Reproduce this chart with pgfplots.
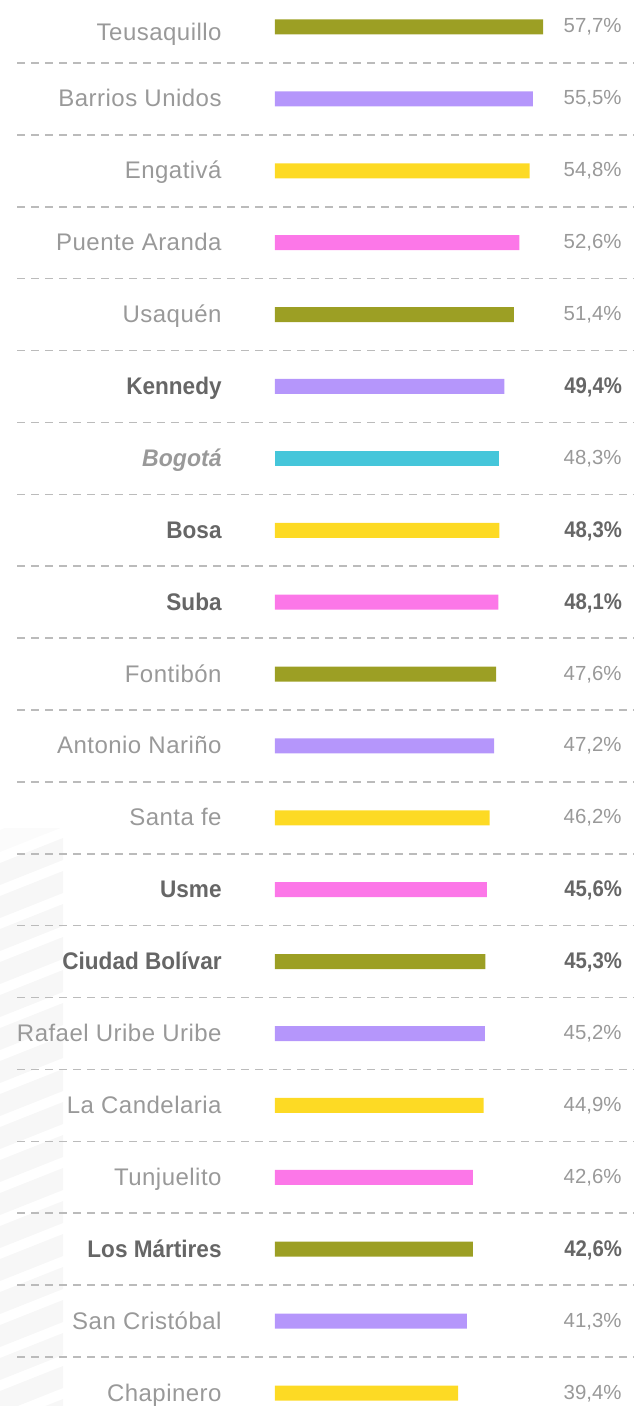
\documentclass[border=0pt]{standalone}
\usepackage{fontspec}
\setmainfont{Liberation Sans}
\newfontfamily\labfont[LetterSpace=2]{Liberation Sans}
\newfontfamily\boldfont[FakeStretch=0.94]{Liberation Sans Bold}
\newfontfamily\bvalfont[FakeStretch=0.9]{Liberation Sans Bold}
\newfontfamily\bifont[FakeStretch=0.96]{Liberation Sans Bold Italic}
\usepackage{pgfplots}
\pgfplotsset{compat=1.18}
\definecolor{olive}{HTML}{9C9F24}
\definecolor{lav}{HTML}{B596FB}
\definecolor{yel}{HTML}{FDDA24}
\definecolor{pink}{HTML}{FC77E8}
\definecolor{cyan}{HTML}{45C6DA}
\definecolor{lgray}{HTML}{999999}
\definecolor{dgray}{HTML}{666666}
\definecolor{sep}{HTML}{BBBBBB}
\definecolor{stripe}{HTML}{F7F7F7}
\definecolor{stripe2}{HTML}{FBFBFB}
\newcommand{\lab}[3]{\node[anchor=base east,inner sep=0pt,font=\fontsize{12}{14}\selectfont,#3] at (axis cs:-11.41,#1) [yshift=-4pt] {#2};}
\newcommand{\val}[3]{\node[anchor=base east,inner sep=0pt,font=\fontsize{10.2}{12}\selectfont,#3] at (axis cs:74.7,#1) [yshift=-3pt] {#2};}
\newcommand{\bval}[2]{\node[anchor=base east,inner sep=0pt,font=\fontsize{11.3}{13}\selectfont,dgray] at (axis cs:74.8,#1) [yshift=-3.5pt] {\bvalfont #2};}
\begin{document}
\begin{tikzpicture}
\begin{axis}[
  scale only axis, width=317pt, height=703pt,
  xmin=-59.20, xmax=77.29, ymin=-0.3755, ymax=19.181,
  y dir=reverse, hide axis, clip=false,
  xbar, bar width=7.5pt, bar shift=0pt,
]
\path (axis cs:-59.20,-0.3755) rectangle (axis cs:77.29,19.181);
\begin{scope}[shift={(axis cs:-59.20,-0.3755)}, x=0.5pt, y=-0.5pt]
  \clip (0,828) rectangle (63,1406);
  \fill[stripe2] (0,830) -- (63,805) -- (63,827) -- (0,852) -- cycle;
  \pgfplotsinvokeforeach{1,...,18}{
    \fill[stripe] (0,{830+33*#1}) -- (63,{805+33*#1}) -- (63,{827+33*#1}) -- (0,{852+33*#1}) -- cycle;
  }
\end{scope}
\pgfplotsinvokeforeach{0,...,18}{
  \draw[sep, line width=0.8pt, dash pattern=on 4pt off 3pt] (axis cs:-55.5,#1+0.5) -- (axis cs:77.29,#1+0.5);
}
\addplot[draw=none, fill=olive] coordinates {(57.7,0) (51.4,4) (47.6,9) (45.3,13) (42.6,17)};
\addplot[draw=none, fill=lav] coordinates {(55.5,1) (49.4,5) (47.2,10) (45.2,14) (41.3,18)};
\addplot[draw=none, fill=yel] coordinates {(54.8,2) (48.3,7) (46.2,11) (44.9,15) (39.4,19)};
\addplot[draw=none, fill=pink] coordinates {(52.6,3) (48.1,8) (45.6,12) (42.6,16)};
\addplot[draw=none, fill=cyan] coordinates {(48.3,6)};
\lab{0.08}{\labfont Teusaquillo}{lgray}
\lab{1}{\labfont Barrios Unidos}{lgray}
\lab{2}{\labfont Engativá}{lgray}
\lab{3}{\labfont Puente Aranda}{lgray}
\lab{4}{\labfont Usaquén}{lgray}
\lab{5}{\boldfont Kennedy}{dgray}
\lab{6}{\bifont Bogotá}{lgray}
\lab{7}{\boldfont Bosa}{dgray}
\lab{8}{\boldfont Suba}{dgray}
\lab{9}{\labfont Fontibón}{lgray}
\lab{10}{\labfont Antonio Nariño}{lgray}
\lab{11}{\labfont Santa fe}{lgray}
\lab{12}{\boldfont Usme}{dgray}
\lab{13}{\boldfont Ciudad Bolívar}{dgray}
\lab{14}{\labfont Rafael Uribe Uribe}{lgray}
\lab{15}{\labfont La Candelaria}{lgray}
\lab{16}{\labfont Tunjuelito}{lgray}
\lab{17}{\boldfont Los Mártires}{dgray}
\lab{18}{\labfont San Cristóbal}{lgray}
\lab{19}{\labfont Chapinero}{lgray}
\val{0}{57,7\%}{lgray}
\val{1}{55,5\%}{lgray}
\val{2}{54,8\%}{lgray}
\val{3}{52,6\%}{lgray}
\val{4}{51,4\%}{lgray}
\bval{5}{49,4\%}
\val{6}{48,3\%}{lgray}
\bval{7}{48,3\%}
\bval{8}{48,1\%}
\val{9}{47,6\%}{lgray}
\val{10}{47,2\%}{lgray}
\val{11}{46,2\%}{lgray}
\bval{12}{45,6\%}
\bval{13}{45,3\%}
\val{14}{45,2\%}{lgray}
\val{15}{44,9\%}{lgray}
\val{16}{42,6\%}{lgray}
\bval{17}{42,6\%}
\val{18}{41,3\%}{lgray}
\val{19}{39,4\%}{lgray}
\end{axis}
\end{tikzpicture}
\end{document}
